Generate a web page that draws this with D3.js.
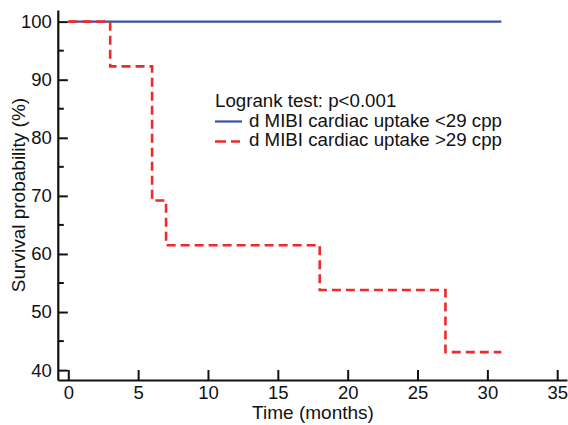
<!DOCTYPE html>
<html>
<head>
<meta charset="utf-8">
<script src="https://cdn.jsdelivr.net/npm/d3@7"></script>
<style>
  body { margin: 0; background: #fff; }
  text { font-family: "Liberation Sans", Arial, sans-serif; fill: #111; }
</style>
</head>
<body>
<div id="chart"></div>
<script>
// Kaplan-Meier step data (months, survival %)
const lowUptakeTimes = [0, 31];
const lowUptakeSurvival = [100, 100];
const highUptakeTimes = [0, 3, 6, 7, 18, 27, 31];
const highUptakeSurvival = [100, 92.3, 69.2, 61.5, 53.8, 43.1, 43.1];

const xTicks = [0, 5, 10, 15, 20, 25, 30, 35];
const yTicks = [40, 50, 60, 70, 80, 90, 100];
const yMinorTicks = [45, 55, 65, 75, 85, 95];

const legendTitle = "Logrank test: p<0.001";
const seriesNames = ["d MIBI cardiac uptake <29 cpp", "d MIBI cardiac uptake >29 cpp"];
const seriesColors = ["#3a4fa3", "#ee2a2a"];

const width = 568, height = 425;

const svg = d3.select("#chart").append("svg")
  .attr("width", width)
  .attr("height", height);

const x = d3.scaleLinear().domain([-0.75, 35.7]).range([57.8, 567]);
const y = d3.scaleLinear().domain([38.3, 102]).range([380, 10]);

// lines first, axes drawn on top
const line = d3.line()
  .x(d => x(d[0]))
  .y(d => y(d[1]))
  .curve(d3.curveStepAfter);

const lowData = lowUptakeTimes.map((t, i) => [t, lowUptakeSurvival[i]]);
const highData = highUptakeTimes.map((t, i) => [t, highUptakeSurvival[i]]);

svg.append("path")
  .datum(lowData)
  .attr("d", line)
  .attr("fill", "none")
  .attr("stroke", seriesColors[0])
  .attr("stroke-width", 2.2);

svg.append("path")
  .datum(highData)
  .attr("d", line)
  .attr("fill", "none")
  .attr("stroke", seriesColors[1])
  .attr("stroke-width", 2.6)
  .attr("stroke-dasharray", "9,5");

// x axis
const xAxis = svg.append("g")
  .attr("transform", `translate(0,${y(38.3)})`)
  .call(d3.axisBottom(x).tickValues(xTicks).tickSize(-10).tickSizeOuter(0).tickPadding(6));

// y axis
const yAxis = svg.append("g")
  .attr("transform", `translate(${x(-0.75)},0)`)
  .call(d3.axisLeft(y).tickValues(yTicks).tickSize(-10).tickSizeOuter(0).tickPadding(6));

svg.append("g")
  .attr("transform", `translate(${x(-0.75)},0)`)
  .selectAll("line")
  .data(yMinorTicks)
  .join("line")
  .attr("x1", 0).attr("x2", 6)
  .attr("y1", d => y(d)).attr("y2", d => y(d))
  .attr("stroke", "#111")
  .attr("stroke-width", 2);

[xAxis, yAxis].forEach(g => {
  g.select(".domain").attr("stroke", "#111").attr("stroke-width", 2.2);
  g.selectAll(".tick line").attr("stroke", "#111").attr("stroke-width", 2);
  g.selectAll(".tick text")
    .style("font-family", '"Liberation Sans", Arial, sans-serif')
    .style("font-size", "18.5px")
    .attr("fill", "#111");
});

// axis titles
svg.append("text")
  .attr("x", 313)
  .attr("y", 419)
  .attr("text-anchor", "middle")
  .style("font-size", "19px")
  .text("Time (months)");

svg.append("text")
  .attr("transform", `translate(24.5,195) rotate(-90)`)
  .attr("text-anchor", "middle")
  .style("font-size", "19px")
  .text("Survival probability (%)");

// legend
const legend = svg.append("g").attr("transform", "translate(215,0)");

legend.append("text")
  .attr("x", 0).attr("y", 107)
  .style("font-size", "18.7px")
  .text(legendTitle);

legend.append("line")
  .attr("x1", 0).attr("x2", 27)
  .attr("y1", 121.5).attr("y2", 121.5)
  .attr("stroke", seriesColors[0])
  .attr("stroke-width", 2.2);

legend.append("line")
  .attr("x1", 0).attr("x2", 25)
  .attr("y1", 141.5).attr("y2", 141.5)
  .attr("stroke", seriesColors[1])
  .attr("stroke-width", 2.6)
  .attr("stroke-dasharray", "11,5");

legend.selectAll("text.series")
  .data(seriesNames)
  .join("text")
  .attr("class", "series")
  .attr("x", 34)
  .attr("y", (d, i) => 126.5 + i * 19.5)
  .style("font-size", "18.7px")
  .text(d => d);
</script>
</body>
</html>
